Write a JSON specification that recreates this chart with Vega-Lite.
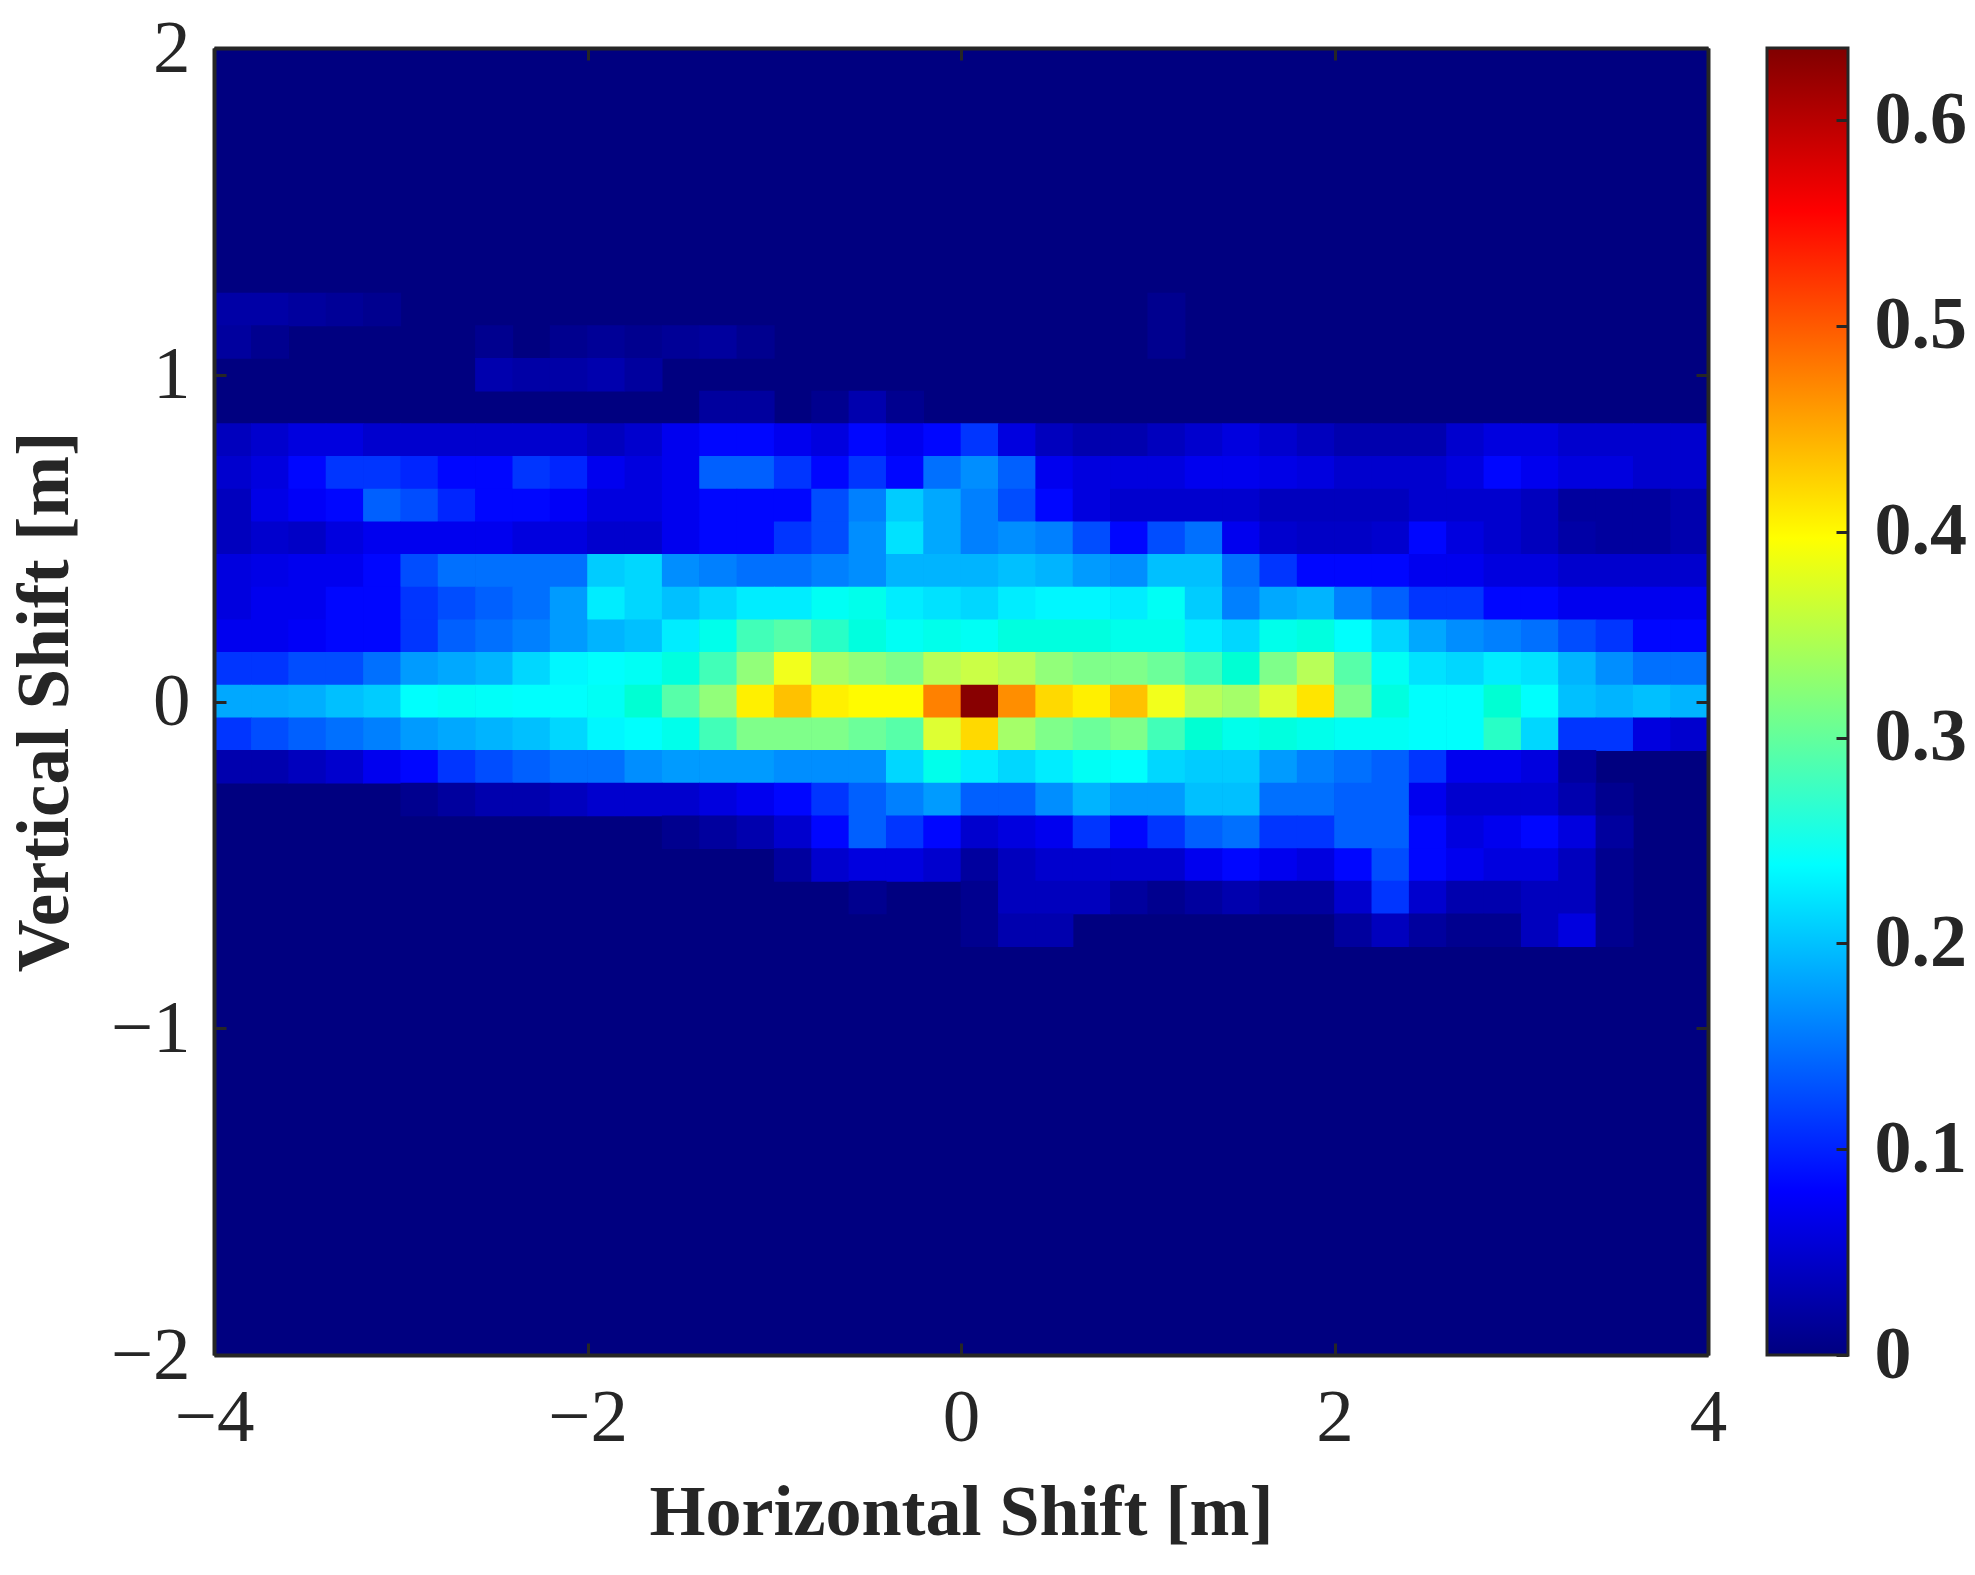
{"$schema":"https://vega.github.io/schema/vega-lite/v6.json","padding":{"left":9,"top":11,"right":5,"bottom":5},"background":"white","bounds":"flush","spacing":59,"config":{"font":"Liberation Serif","axis":{"grid":false,"labelFont":"Liberation Serif","titleFont":"Liberation Serif","labelColor":"#262626","titleColor":"#262626","tickColor":"#262626","domainColor":"#262626","tickSize":-12,"tickWidth":3,"domainWidth":4}},
"datasets":{"cells":[
{"x":-3.9,"y":1.2,"v":0.025},{"x":-3.7,"y":1.2,"v":0.025},{"x":-3.5,"y":1.2,"v":0.02},{"x":-3.3,"y":1.2,"v":0.015},{"x":-3.1,"y":1.2,"v":0.01},{"x":1.1,"y":1.2,"v":0.01},
{"x":-3.9,"y":1.1,"v":0.02},{"x":-3.7,"y":1.1,"v":0.01},{"x":-2.5,"y":1.1,"v":0.01},{"x":-2.1,"y":1.1,"v":0.01},{"x":-1.9,"y":1.1,"v":0.015},{"x":-1.7,"y":1.1,"v":0.01},{"x":-1.5,"y":1.1,"v":0.015},{"x":-1.3,"y":1.1,"v":0.02},{"x":-1.1,"y":1.1,"v":0.01},{"x":1.1,"y":1.1,"v":0.01},
{"x":-2.5,"y":1.0,"v":0.03},{"x":-2.3,"y":1.0,"v":0.025},{"x":-2.1,"y":1.0,"v":0.025},{"x":-1.9,"y":1.0,"v":0.03},{"x":-1.7,"y":1.0,"v":0.02},
{"x":-1.3,"y":0.9,"v":0.02},{"x":-1.1,"y":0.9,"v":0.02},{"x":-0.7,"y":0.9,"v":0.01},{"x":-0.5,"y":0.9,"v":0.03},{"x":-0.3,"y":0.9,"v":0.01},
{"x":-3.9,"y":0.8,"v":0.04},{"x":-3.7,"y":0.8,"v":0.05},{"x":-3.5,"y":0.8,"v":0.06},{"x":-3.3,"y":0.8,"v":0.06},{"x":-3.1,"y":0.8,"v":0.05},{"x":-2.9,"y":0.8,"v":0.05},{"x":-2.7,"y":0.8,"v":0.05},{"x":-2.5,"y":0.8,"v":0.05},{"x":-2.3,"y":0.8,"v":0.05},{"x":-2.1,"y":0.8,"v":0.05},{"x":-1.9,"y":0.8,"v":0.04},{"x":-1.7,"y":0.8,"v":0.05},{"x":-1.5,"y":0.8,"v":0.07},{"x":-1.3,"y":0.8,"v":0.08},{"x":-1.1,"y":0.8,"v":0.08},{"x":-0.9,"y":0.8,"v":0.07},{"x":-0.7,"y":0.8,"v":0.06},{"x":-0.5,"y":0.8,"v":0.08},{"x":-0.3,"y":0.8,"v":0.07},{"x":-0.1,"y":0.8,"v":0.08},{"x":0.1,"y":0.8,"v":0.09},{"x":0.3,"y":0.8,"v":0.06},{"x":0.5,"y":0.8,"v":0.04},{"x":0.7,"y":0.8,"v":0.03},{"x":0.9,"y":0.8,"v":0.03},{"x":1.1,"y":0.8,"v":0.04},{"x":1.3,"y":0.8,"v":0.05},{"x":1.5,"y":0.8,"v":0.06},{"x":1.7,"y":0.8,"v":0.05},{"x":1.9,"y":0.8,"v":0.04},{"x":2.1,"y":0.8,"v":0.03},{"x":2.3,"y":0.8,"v":0.03},{"x":2.5,"y":0.8,"v":0.03},{"x":2.7,"y":0.8,"v":0.05},{"x":2.9,"y":0.8,"v":0.06},{"x":3.1,"y":0.8,"v":0.06},{"x":3.3,"y":0.8,"v":0.05},{"x":3.5,"y":0.8,"v":0.05},{"x":3.7,"y":0.8,"v":0.05},{"x":3.9,"y":0.8,"v":0.05},
{"x":-3.9,"y":0.7,"v":0.05},{"x":-3.7,"y":0.7,"v":0.06},{"x":-3.5,"y":0.7,"v":0.08},{"x":-3.3,"y":0.7,"v":0.09},{"x":-3.1,"y":0.7,"v":0.09},{"x":-2.9,"y":0.7,"v":0.085},{"x":-2.7,"y":0.7,"v":0.08},{"x":-2.5,"y":0.7,"v":0.08},{"x":-2.3,"y":0.7,"v":0.09},{"x":-2.1,"y":0.7,"v":0.085},{"x":-1.9,"y":0.7,"v":0.07},{"x":-1.7,"y":0.7,"v":0.06},{"x":-1.5,"y":0.7,"v":0.07},{"x":-1.3,"y":0.7,"v":0.11},{"x":-1.1,"y":0.7,"v":0.11},{"x":-0.9,"y":0.7,"v":0.09},{"x":-0.7,"y":0.7,"v":0.08},{"x":-0.5,"y":0.7,"v":0.09},{"x":-0.3,"y":0.7,"v":0.08},{"x":-0.1,"y":0.7,"v":0.12},{"x":0.1,"y":0.7,"v":0.14},{"x":0.3,"y":0.7,"v":0.11},{"x":0.5,"y":0.7,"v":0.07},{"x":0.7,"y":0.7,"v":0.06},{"x":0.9,"y":0.7,"v":0.06},{"x":1.1,"y":0.7,"v":0.06},{"x":1.3,"y":0.7,"v":0.07},{"x":1.5,"y":0.7,"v":0.07},{"x":1.7,"y":0.7,"v":0.065},{"x":1.9,"y":0.7,"v":0.06},{"x":2.1,"y":0.7,"v":0.05},{"x":2.3,"y":0.7,"v":0.05},{"x":2.5,"y":0.7,"v":0.05},{"x":2.7,"y":0.7,"v":0.06},{"x":2.9,"y":0.7,"v":0.08},{"x":3.1,"y":0.7,"v":0.07},{"x":3.3,"y":0.7,"v":0.06},{"x":3.5,"y":0.7,"v":0.06},{"x":3.7,"y":0.7,"v":0.05},{"x":3.9,"y":0.7,"v":0.05},
{"x":-3.9,"y":0.6,"v":0.04},{"x":-3.7,"y":0.6,"v":0.065},{"x":-3.5,"y":0.6,"v":0.075},{"x":-3.3,"y":0.6,"v":0.08},{"x":-3.1,"y":0.6,"v":0.11},{"x":-2.9,"y":0.6,"v":0.1},{"x":-2.7,"y":0.6,"v":0.085},{"x":-2.5,"y":0.6,"v":0.08},{"x":-2.3,"y":0.6,"v":0.08},{"x":-2.1,"y":0.6,"v":0.075},{"x":-1.9,"y":0.6,"v":0.06},{"x":-1.7,"y":0.6,"v":0.06},{"x":-1.5,"y":0.6,"v":0.07},{"x":-1.3,"y":0.6,"v":0.08},{"x":-1.1,"y":0.6,"v":0.08},{"x":-0.9,"y":0.6,"v":0.08},{"x":-0.7,"y":0.6,"v":0.1},{"x":-0.5,"y":0.6,"v":0.13},{"x":-0.3,"y":0.6,"v":0.19},{"x":-0.1,"y":0.6,"v":0.16},{"x":0.1,"y":0.6,"v":0.13},{"x":0.3,"y":0.6,"v":0.1},{"x":0.5,"y":0.6,"v":0.08},{"x":0.7,"y":0.6,"v":0.06},{"x":0.9,"y":0.6,"v":0.05},{"x":1.1,"y":0.6,"v":0.05},{"x":1.3,"y":0.6,"v":0.05},{"x":1.5,"y":0.6,"v":0.05},{"x":1.7,"y":0.6,"v":0.04},{"x":1.9,"y":0.6,"v":0.04},{"x":2.1,"y":0.6,"v":0.04},{"x":2.3,"y":0.6,"v":0.04},{"x":2.5,"y":0.6,"v":0.05},{"x":2.7,"y":0.6,"v":0.05},{"x":2.9,"y":0.6,"v":0.05},{"x":3.1,"y":0.6,"v":0.04},{"x":3.3,"y":0.6,"v":0.02},{"x":3.5,"y":0.6,"v":0.02},{"x":3.7,"y":0.6,"v":0.02},{"x":3.9,"y":0.6,"v":0.03},
{"x":-3.9,"y":0.5,"v":0.04},{"x":-3.7,"y":0.5,"v":0.05},{"x":-3.5,"y":0.5,"v":0.045},{"x":-3.3,"y":0.5,"v":0.06},{"x":-3.1,"y":0.5,"v":0.07},{"x":-2.9,"y":0.5,"v":0.07},{"x":-2.7,"y":0.5,"v":0.07},{"x":-2.5,"y":0.5,"v":0.07},{"x":-2.3,"y":0.5,"v":0.06},{"x":-2.1,"y":0.5,"v":0.06},{"x":-1.9,"y":0.5,"v":0.05},{"x":-1.7,"y":0.5,"v":0.05},{"x":-1.5,"y":0.5,"v":0.07},{"x":-1.3,"y":0.5,"v":0.08},{"x":-1.1,"y":0.5,"v":0.08},{"x":-0.9,"y":0.5,"v":0.09},{"x":-0.7,"y":0.5,"v":0.1},{"x":-0.5,"y":0.5,"v":0.14},{"x":-0.3,"y":0.5,"v":0.21},{"x":-0.1,"y":0.5,"v":0.16},{"x":0.1,"y":0.5,"v":0.13},{"x":0.3,"y":0.5,"v":0.14},{"x":0.5,"y":0.5,"v":0.13},{"x":0.7,"y":0.5,"v":0.1},{"x":0.9,"y":0.5,"v":0.08},{"x":1.1,"y":0.5,"v":0.1},{"x":1.3,"y":0.5,"v":0.12},{"x":1.5,"y":0.5,"v":0.07},{"x":1.7,"y":0.5,"v":0.05},{"x":1.9,"y":0.5,"v":0.045},{"x":2.1,"y":0.5,"v":0.045},{"x":2.3,"y":0.5,"v":0.05},{"x":2.5,"y":0.5,"v":0.08},{"x":2.7,"y":0.5,"v":0.06},{"x":2.9,"y":0.5,"v":0.05},{"x":3.1,"y":0.5,"v":0.04},{"x":3.3,"y":0.5,"v":0.025},{"x":3.5,"y":0.5,"v":0.02},{"x":3.7,"y":0.5,"v":0.02},{"x":3.9,"y":0.5,"v":0.03},
{"x":-3.9,"y":0.4,"v":0.06},{"x":-3.7,"y":0.4,"v":0.065},{"x":-3.5,"y":0.4,"v":0.07},{"x":-3.3,"y":0.4,"v":0.07},{"x":-3.1,"y":0.4,"v":0.08},{"x":-2.9,"y":0.4,"v":0.1},{"x":-2.7,"y":0.4,"v":0.12},{"x":-2.5,"y":0.4,"v":0.12},{"x":-2.3,"y":0.4,"v":0.12},{"x":-2.1,"y":0.4,"v":0.12},{"x":-1.9,"y":0.4,"v":0.19},{"x":-1.7,"y":0.4,"v":0.2},{"x":-1.5,"y":0.4,"v":0.14},{"x":-1.3,"y":0.4,"v":0.13},{"x":-1.1,"y":0.4,"v":0.12},{"x":-0.9,"y":0.4,"v":0.12},{"x":-0.7,"y":0.4,"v":0.13},{"x":-0.5,"y":0.4,"v":0.14},{"x":-0.3,"y":0.4,"v":0.17},{"x":-0.1,"y":0.4,"v":0.17},{"x":0.1,"y":0.4,"v":0.17},{"x":0.3,"y":0.4,"v":0.18},{"x":0.5,"y":0.4,"v":0.17},{"x":0.7,"y":0.4,"v":0.15},{"x":0.9,"y":0.4,"v":0.14},{"x":1.1,"y":0.4,"v":0.18},{"x":1.3,"y":0.4,"v":0.18},{"x":1.5,"y":0.4,"v":0.12},{"x":1.7,"y":0.4,"v":0.09},{"x":1.9,"y":0.4,"v":0.08},{"x":2.1,"y":0.4,"v":0.08},{"x":2.3,"y":0.4,"v":0.08},{"x":2.5,"y":0.4,"v":0.07},{"x":2.7,"y":0.4,"v":0.07},{"x":2.9,"y":0.4,"v":0.06},{"x":3.1,"y":0.4,"v":0.06},{"x":3.3,"y":0.4,"v":0.05},{"x":3.5,"y":0.4,"v":0.05},{"x":3.7,"y":0.4,"v":0.05},{"x":3.9,"y":0.4,"v":0.05},
{"x":-3.9,"y":0.3,"v":0.06},{"x":-3.7,"y":0.3,"v":0.07},{"x":-3.5,"y":0.3,"v":0.07},{"x":-3.3,"y":0.3,"v":0.08},{"x":-3.1,"y":0.3,"v":0.08},{"x":-2.9,"y":0.3,"v":0.09},{"x":-2.7,"y":0.3,"v":0.1},{"x":-2.5,"y":0.3,"v":0.11},{"x":-2.3,"y":0.3,"v":0.12},{"x":-2.1,"y":0.3,"v":0.15},{"x":-1.9,"y":0.3,"v":0.22},{"x":-1.7,"y":0.3,"v":0.2},{"x":-1.5,"y":0.3,"v":0.18},{"x":-1.3,"y":0.3,"v":0.2},{"x":-1.1,"y":0.3,"v":0.22},{"x":-0.9,"y":0.3,"v":0.22},{"x":-0.7,"y":0.3,"v":0.25},{"x":-0.5,"y":0.3,"v":0.26},{"x":-0.3,"y":0.3,"v":0.22},{"x":-0.1,"y":0.3,"v":0.21},{"x":0.1,"y":0.3,"v":0.2},{"x":0.3,"y":0.3,"v":0.22},{"x":0.5,"y":0.3,"v":0.23},{"x":0.7,"y":0.3,"v":0.23},{"x":0.9,"y":0.3,"v":0.22},{"x":1.1,"y":0.3,"v":0.25},{"x":1.3,"y":0.3,"v":0.19},{"x":1.5,"y":0.3,"v":0.13},{"x":1.7,"y":0.3,"v":0.16},{"x":1.9,"y":0.3,"v":0.17},{"x":2.1,"y":0.3,"v":0.13},{"x":2.3,"y":0.3,"v":0.11},{"x":2.5,"y":0.3,"v":0.09},{"x":2.7,"y":0.3,"v":0.09},{"x":2.9,"y":0.3,"v":0.08},{"x":3.1,"y":0.3,"v":0.08},{"x":3.3,"y":0.3,"v":0.07},{"x":3.5,"y":0.3,"v":0.07},{"x":3.7,"y":0.3,"v":0.07},{"x":3.9,"y":0.3,"v":0.07},
{"x":-3.9,"y":0.2,"v":0.07},{"x":-3.7,"y":0.2,"v":0.07},{"x":-3.5,"y":0.2,"v":0.075},{"x":-3.3,"y":0.2,"v":0.08},{"x":-3.1,"y":0.2,"v":0.08},{"x":-2.9,"y":0.2,"v":0.09},{"x":-2.7,"y":0.2,"v":0.11},{"x":-2.5,"y":0.2,"v":0.12},{"x":-2.3,"y":0.2,"v":0.13},{"x":-2.1,"y":0.2,"v":0.15},{"x":-1.9,"y":0.2,"v":0.17},{"x":-1.7,"y":0.2,"v":0.18},{"x":-1.5,"y":0.2,"v":0.22},{"x":-1.3,"y":0.2,"v":0.26},{"x":-1.1,"y":0.2,"v":0.3},{"x":-0.9,"y":0.2,"v":0.31},{"x":-0.7,"y":0.2,"v":0.29},{"x":-0.5,"y":0.2,"v":0.27},{"x":-0.3,"y":0.2,"v":0.25},{"x":-0.1,"y":0.2,"v":0.26},{"x":0.1,"y":0.2,"v":0.25},{"x":0.3,"y":0.2,"v":0.27},{"x":0.5,"y":0.2,"v":0.27},{"x":0.7,"y":0.2,"v":0.27},{"x":0.9,"y":0.2,"v":0.26},{"x":1.1,"y":0.2,"v":0.26},{"x":1.3,"y":0.2,"v":0.22},{"x":1.5,"y":0.2,"v":0.2},{"x":1.7,"y":0.2,"v":0.26},{"x":1.9,"y":0.2,"v":0.27},{"x":2.1,"y":0.2,"v":0.24},{"x":2.3,"y":0.2,"v":0.2},{"x":2.5,"y":0.2,"v":0.16},{"x":2.7,"y":0.2,"v":0.14},{"x":2.9,"y":0.2,"v":0.13},{"x":3.1,"y":0.2,"v":0.12},{"x":3.3,"y":0.2,"v":0.1},{"x":3.5,"y":0.2,"v":0.09},{"x":3.7,"y":0.2,"v":0.08},{"x":3.9,"y":0.2,"v":0.08},
{"x":-3.9,"y":0.1,"v":0.09},{"x":-3.7,"y":0.1,"v":0.09},{"x":-3.5,"y":0.1,"v":0.1},{"x":-3.3,"y":0.1,"v":0.1},{"x":-3.1,"y":0.1,"v":0.12},{"x":-2.9,"y":0.1,"v":0.15},{"x":-2.7,"y":0.1,"v":0.16},{"x":-2.5,"y":0.1,"v":0.17},{"x":-2.3,"y":0.1,"v":0.2},{"x":-2.1,"y":0.1,"v":0.23},{"x":-1.9,"y":0.1,"v":0.24},{"x":-1.7,"y":0.1,"v":0.25},{"x":-1.5,"y":0.1,"v":0.27},{"x":-1.3,"y":0.1,"v":0.3},{"x":-1.1,"y":0.1,"v":0.34},{"x":-0.9,"y":0.1,"v":0.39},{"x":-0.7,"y":0.1,"v":0.35},{"x":-0.5,"y":0.1,"v":0.34},{"x":-0.3,"y":0.1,"v":0.33},{"x":-0.1,"y":0.1,"v":0.36},{"x":0.1,"y":0.1,"v":0.37},{"x":0.3,"y":0.1,"v":0.36},{"x":0.5,"y":0.1,"v":0.34},{"x":0.7,"y":0.1,"v":0.33},{"x":0.9,"y":0.1,"v":0.33},{"x":1.1,"y":0.1,"v":0.32},{"x":1.3,"y":0.1,"v":0.3},{"x":1.5,"y":0.1,"v":0.28},{"x":1.7,"y":0.1,"v":0.33},{"x":1.9,"y":0.1,"v":0.36},{"x":2.1,"y":0.1,"v":0.31},{"x":2.3,"y":0.1,"v":0.25},{"x":2.5,"y":0.1,"v":0.21},{"x":2.7,"y":0.1,"v":0.2},{"x":2.9,"y":0.1,"v":0.22},{"x":3.1,"y":0.1,"v":0.21},{"x":3.3,"y":0.1,"v":0.17},{"x":3.5,"y":0.1,"v":0.14},{"x":3.7,"y":0.1,"v":0.12},{"x":3.9,"y":0.1,"v":0.12},
{"x":-3.9,"y":0,"v":0.16},{"x":-3.7,"y":0,"v":0.16},{"x":-3.5,"y":0,"v":0.165},{"x":-3.3,"y":0,"v":0.18},{"x":-3.1,"y":0,"v":0.19},{"x":-2.9,"y":0,"v":0.24},{"x":-2.7,"y":0,"v":0.25},{"x":-2.5,"y":0,"v":0.245},{"x":-2.3,"y":0,"v":0.24},{"x":-2.1,"y":0,"v":0.24},{"x":-1.9,"y":0,"v":0.25},{"x":-1.7,"y":0,"v":0.28},{"x":-1.5,"y":0,"v":0.31},{"x":-1.3,"y":0,"v":0.34},{"x":-1.1,"y":0,"v":0.41},{"x":-0.9,"y":0,"v":0.45},{"x":-0.7,"y":0,"v":0.41},{"x":-0.5,"y":0,"v":0.4},{"x":-0.3,"y":0,"v":0.4},{"x":-0.1,"y":0,"v":0.5},{"x":0.1,"y":0,"v":0.63},{"x":0.3,"y":0,"v":0.49},{"x":0.5,"y":0,"v":0.43},{"x":0.7,"y":0,"v":0.41},{"x":0.9,"y":0,"v":0.45},{"x":1.1,"y":0,"v":0.39},{"x":1.3,"y":0,"v":0.36},{"x":1.5,"y":0,"v":0.35},{"x":1.7,"y":0,"v":0.38},{"x":1.9,"y":0,"v":0.42},{"x":2.1,"y":0,"v":0.33},{"x":2.3,"y":0,"v":0.27},{"x":2.5,"y":0,"v":0.24},{"x":2.7,"y":0,"v":0.24},{"x":2.9,"y":0,"v":0.28},{"x":3.1,"y":0,"v":0.24},{"x":3.3,"y":0,"v":0.18},{"x":3.5,"y":0,"v":0.17},{"x":3.7,"y":0,"v":0.18},{"x":3.9,"y":0,"v":0.17},
{"x":-3.9,"y":-0.1,"v":0.09},{"x":-3.7,"y":-0.1,"v":0.1},{"x":-3.5,"y":-0.1,"v":0.11},{"x":-3.3,"y":-0.1,"v":0.12},{"x":-3.1,"y":-0.1,"v":0.13},{"x":-2.9,"y":-0.1,"v":0.15},{"x":-2.7,"y":-0.1,"v":0.16},{"x":-2.5,"y":-0.1,"v":0.17},{"x":-2.3,"y":-0.1,"v":0.18},{"x":-2.1,"y":-0.1,"v":0.2},{"x":-1.9,"y":-0.1,"v":0.23},{"x":-1.7,"y":-0.1,"v":0.24},{"x":-1.5,"y":-0.1,"v":0.26},{"x":-1.3,"y":-0.1,"v":0.3},{"x":-1.1,"y":-0.1,"v":0.33},{"x":-0.9,"y":-0.1,"v":0.33},{"x":-0.7,"y":-0.1,"v":0.33},{"x":-0.5,"y":-0.1,"v":0.32},{"x":-0.3,"y":-0.1,"v":0.31},{"x":-0.1,"y":-0.1,"v":0.38},{"x":0.1,"y":-0.1,"v":0.43},{"x":0.3,"y":-0.1,"v":0.35},{"x":0.5,"y":-0.1,"v":0.33},{"x":0.7,"y":-0.1,"v":0.32},{"x":0.9,"y":-0.1,"v":0.33},{"x":1.1,"y":-0.1,"v":0.3},{"x":1.3,"y":-0.1,"v":0.28},{"x":1.5,"y":-0.1,"v":0.26},{"x":1.7,"y":-0.1,"v":0.27},{"x":1.9,"y":-0.1,"v":0.26},{"x":2.1,"y":-0.1,"v":0.25},{"x":2.3,"y":-0.1,"v":0.25},{"x":2.5,"y":-0.1,"v":0.24},{"x":2.7,"y":-0.1,"v":0.24},{"x":2.9,"y":-0.1,"v":0.29},{"x":3.1,"y":-0.1,"v":0.2},{"x":3.3,"y":-0.1,"v":0.09},{"x":3.5,"y":-0.1,"v":0.09},{"x":3.7,"y":-0.1,"v":0.06},{"x":3.9,"y":-0.1,"v":0.05},
{"x":-3.9,"y":-0.2,"v":0.03},{"x":-3.7,"y":-0.2,"v":0.03},{"x":-3.5,"y":-0.2,"v":0.04},{"x":-3.3,"y":-0.2,"v":0.05},{"x":-3.1,"y":-0.2,"v":0.07},{"x":-2.9,"y":-0.2,"v":0.08},{"x":-2.7,"y":-0.2,"v":0.09},{"x":-2.5,"y":-0.2,"v":0.1},{"x":-2.3,"y":-0.2,"v":0.11},{"x":-2.1,"y":-0.2,"v":0.12},{"x":-1.9,"y":-0.2,"v":0.12},{"x":-1.7,"y":-0.2,"v":0.14},{"x":-1.5,"y":-0.2,"v":0.15},{"x":-1.3,"y":-0.2,"v":0.15},{"x":-1.1,"y":-0.2,"v":0.15},{"x":-0.9,"y":-0.2,"v":0.14},{"x":-0.7,"y":-0.2,"v":0.14},{"x":-0.5,"y":-0.2,"v":0.14},{"x":-0.3,"y":-0.2,"v":0.2},{"x":-0.1,"y":-0.2,"v":0.26},{"x":0.1,"y":-0.2,"v":0.22},{"x":0.3,"y":-0.2,"v":0.2},{"x":0.5,"y":-0.2,"v":0.22},{"x":0.7,"y":-0.2,"v":0.25},{"x":0.9,"y":-0.2,"v":0.24},{"x":1.1,"y":-0.2,"v":0.2},{"x":1.3,"y":-0.2,"v":0.19},{"x":1.5,"y":-0.2,"v":0.19},{"x":1.7,"y":-0.2,"v":0.15},{"x":1.9,"y":-0.2,"v":0.13},{"x":2.1,"y":-0.2,"v":0.12},{"x":2.3,"y":-0.2,"v":0.11},{"x":2.5,"y":-0.2,"v":0.09},{"x":2.7,"y":-0.2,"v":0.07},{"x":2.9,"y":-0.2,"v":0.07},{"x":3.1,"y":-0.2,"v":0.06},{"x":3.3,"y":-0.2,"v":0.02},
{"x":-2.9,"y":-0.3,"v":0.01},{"x":-2.7,"y":-0.3,"v":0.02},{"x":-2.5,"y":-0.3,"v":0.03},{"x":-2.3,"y":-0.3,"v":0.03},{"x":-2.1,"y":-0.3,"v":0.04},{"x":-1.9,"y":-0.3,"v":0.05},{"x":-1.7,"y":-0.3,"v":0.05},{"x":-1.5,"y":-0.3,"v":0.05},{"x":-1.3,"y":-0.3,"v":0.06},{"x":-1.1,"y":-0.3,"v":0.07},{"x":-0.9,"y":-0.3,"v":0.08},{"x":-0.7,"y":-0.3,"v":0.09},{"x":-0.5,"y":-0.3,"v":0.11},{"x":-0.3,"y":-0.3,"v":0.13},{"x":-0.1,"y":-0.3,"v":0.15},{"x":0.1,"y":-0.3,"v":0.11},{"x":0.3,"y":-0.3,"v":0.11},{"x":0.5,"y":-0.3,"v":0.14},{"x":0.7,"y":-0.3,"v":0.17},{"x":0.9,"y":-0.3,"v":0.15},{"x":1.1,"y":-0.3,"v":0.15},{"x":1.3,"y":-0.3,"v":0.18},{"x":1.5,"y":-0.3,"v":0.18},{"x":1.7,"y":-0.3,"v":0.12},{"x":1.9,"y":-0.3,"v":0.12},{"x":2.1,"y":-0.3,"v":0.11},{"x":2.3,"y":-0.3,"v":0.11},{"x":2.5,"y":-0.3,"v":0.07},{"x":2.7,"y":-0.3,"v":0.05},{"x":2.9,"y":-0.3,"v":0.05},{"x":3.1,"y":-0.3,"v":0.05},{"x":3.3,"y":-0.3,"v":0.03},{"x":3.5,"y":-0.3,"v":0.01},
{"x":-1.5,"y":-0.4,"v":0.01},{"x":-1.3,"y":-0.4,"v":0.02},{"x":-1.1,"y":-0.4,"v":0.03},{"x":-0.9,"y":-0.4,"v":0.05},{"x":-0.7,"y":-0.4,"v":0.08},{"x":-0.5,"y":-0.4,"v":0.11},{"x":-0.3,"y":-0.4,"v":0.09},{"x":-0.1,"y":-0.4,"v":0.08},{"x":0.1,"y":-0.4,"v":0.05},{"x":0.3,"y":-0.4,"v":0.06},{"x":0.5,"y":-0.4,"v":0.07},{"x":0.7,"y":-0.4,"v":0.09},{"x":0.9,"y":-0.4,"v":0.08},{"x":1.1,"y":-0.4,"v":0.09},{"x":1.3,"y":-0.4,"v":0.11},{"x":1.5,"y":-0.4,"v":0.12},{"x":1.7,"y":-0.4,"v":0.09},{"x":1.9,"y":-0.4,"v":0.09},{"x":2.1,"y":-0.4,"v":0.11},{"x":2.3,"y":-0.4,"v":0.11},{"x":2.5,"y":-0.4,"v":0.08},{"x":2.7,"y":-0.4,"v":0.06},{"x":2.9,"y":-0.4,"v":0.07},{"x":3.1,"y":-0.4,"v":0.08},{"x":3.3,"y":-0.4,"v":0.06},{"x":3.5,"y":-0.4,"v":0.02},
{"x":-0.9,"y":-0.5,"v":0.02},{"x":-0.7,"y":-0.5,"v":0.05},{"x":-0.5,"y":-0.5,"v":0.06},{"x":-0.3,"y":-0.5,"v":0.06},{"x":-0.1,"y":-0.5,"v":0.05},{"x":0.1,"y":-0.5,"v":0.02},{"x":0.3,"y":-0.5,"v":0.04},{"x":0.5,"y":-0.5,"v":0.05},{"x":0.7,"y":-0.5,"v":0.05},{"x":0.9,"y":-0.5,"v":0.05},{"x":1.1,"y":-0.5,"v":0.05},{"x":1.3,"y":-0.5,"v":0.07},{"x":1.5,"y":-0.5,"v":0.08},{"x":1.7,"y":-0.5,"v":0.07},{"x":1.9,"y":-0.5,"v":0.06},{"x":2.1,"y":-0.5,"v":0.08},{"x":2.3,"y":-0.5,"v":0.1},{"x":2.5,"y":-0.5,"v":0.08},{"x":2.7,"y":-0.5,"v":0.07},{"x":2.9,"y":-0.5,"v":0.06},{"x":3.1,"y":-0.5,"v":0.06},{"x":3.3,"y":-0.5,"v":0.04},{"x":3.5,"y":-0.5,"v":0.01},
{"x":-0.5,"y":-0.6,"v":0.01},{"x":0.1,"y":-0.6,"v":0.01},{"x":0.3,"y":-0.6,"v":0.04},{"x":0.5,"y":-0.6,"v":0.04},{"x":0.7,"y":-0.6,"v":0.04},{"x":0.9,"y":-0.6,"v":0.02},{"x":1.1,"y":-0.6,"v":0.01},{"x":1.3,"y":-0.6,"v":0.02},{"x":1.5,"y":-0.6,"v":0.03},{"x":1.7,"y":-0.6,"v":0.02},{"x":1.9,"y":-0.6,"v":0.02},{"x":2.1,"y":-0.6,"v":0.05},{"x":2.3,"y":-0.6,"v":0.09},{"x":2.5,"y":-0.6,"v":0.05},{"x":2.7,"y":-0.6,"v":0.03},{"x":2.9,"y":-0.6,"v":0.03},{"x":3.1,"y":-0.6,"v":0.04},{"x":3.3,"y":-0.6,"v":0.04},{"x":3.5,"y":-0.6,"v":0.01},
{"x":0.1,"y":-0.7,"v":0.01},{"x":0.3,"y":-0.7,"v":0.03},{"x":0.5,"y":-0.7,"v":0.03},{"x":2.1,"y":-0.7,"v":0.02},{"x":2.3,"y":-0.7,"v":0.04},{"x":2.5,"y":-0.7,"v":0.02},{"x":2.7,"y":-0.7,"v":0.01},{"x":2.9,"y":-0.7,"v":0.01},{"x":3.1,"y":-0.7,"v":0.04},{"x":3.3,"y":-0.7,"v":0.06},{"x":3.5,"y":-0.7,"v":0.01}
],"frame":[{"x0":-4,"x1":4,"y0":-2,"y1":2}],"bar":[{"a":0,"b":0.635}]},
"hconcat":[
{"width":1494,"height":1307,"view":{"fill":"#000080","stroke":null},"resolve":{"axis":{"x":"independent","y":"independent"}},"layer":[
{"data":{"name":"cells"},"mark":{"type":"rect","width":38,"height":33.5},"encoding":{
"x":{"field":"x","type":"quantitative","scale":{"domain":[-4,4],"nice":false},"axis":{"values":[-4,-2,0,2,4],"labelFontSize":75,"labelPadding":38,"labelFlush":false,"title":"Horizontal Shift [m]","titleFontSize":72,"titleFontWeight":"bold","titlePadding":22,"zindex":1}},
"y":{"field":"y","type":"quantitative","scale":{"domain":[-2,2],"nice":false},"axis":{"values":[-2,-1,0,1,2],"labelFontSize":75,"labelPadding":36,"title":"Vertical Shift [m]","titleFontSize":73,"titleFontWeight":"bold","titlePadding":28,"zindex":1}},
"color":{"field":"v","type":"quantitative","legend":null,"scale":{"domain":[0,0.0794,0.2381,0.3969,0.5556,0.635],"range":["#000080","#0000ff","#00ffff","#ffff00","#ff0000","#800000"]}}}},
{"data":{"name":"frame"},"mark":{"type":"rect","fillOpacity":0,"strokeOpacity":0},"encoding":{
"x":{"field":"x0","type":"quantitative","axis":{"orient":"top","values":[-4,-2,0,2,4],"labels":false,"title":null,"zindex":1}},"x2":{"field":"x1"},
"y":{"field":"y0","type":"quantitative","axis":{"orient":"right","values":[-2,-1,0,1,2],"labels":false,"title":null,"zindex":1}},"y2":{"field":"y1"}}}
]},
{"width":81,"height":1307,"view":{"stroke":null},"data":{"name":"bar"},"mark":{"type":"rect","stroke":"#262626","strokeWidth":3,"fill":{"gradient":"linear","x1":0,"y1":1,"x2":0,"y2":0,"stops":[{"offset":0,"color":"#000080"},{"offset":0.125,"color":"#0000ff"},{"offset":0.375,"color":"#00ffff"},{"offset":0.625,"color":"#ffff00"},{"offset":0.875,"color":"#ff0000"},{"offset":1,"color":"#800000"}]}},"encoding":{
"y":{"field":"a","type":"quantitative","scale":{"domain":[0,0.635],"nice":false},"axis":{"orient":"right","values":[0,0.1,0.2,0.3,0.4,0.5,0.6],"format":"~g","domain":false,"labelFontSize":74,"labelFontWeight":"bold","labelPadding":38,"title":null,"zindex":1}},"y2":{"field":"b"}}}
]}
